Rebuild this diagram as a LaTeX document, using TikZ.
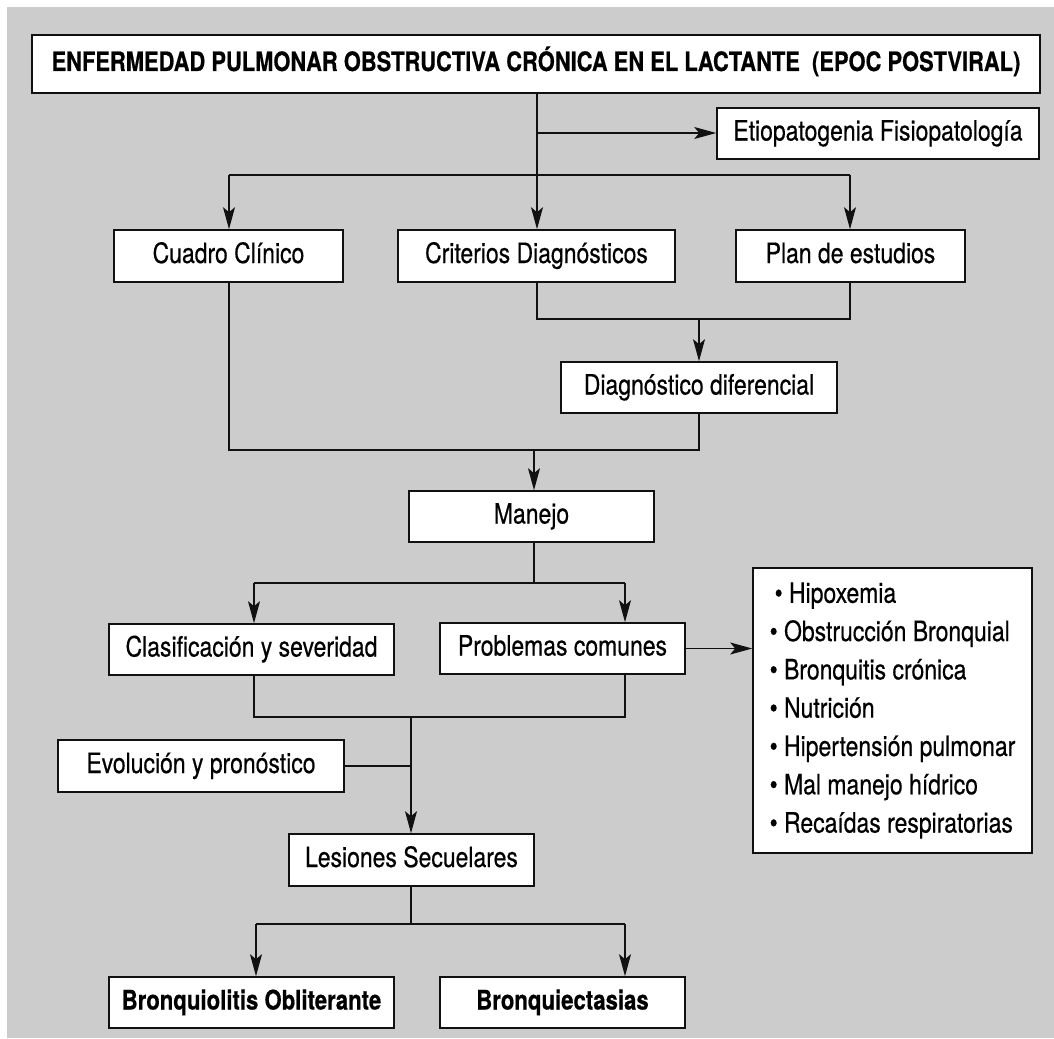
\documentclass[tikz,border=0pt]{standalone}
\usepackage{fontspec}
\setmainfont{TeX Gyre Heros}[FakeStretch=0.82, FakeBold=0.5]
\usetikzlibrary{arrows.meta}
\definecolor{bggray}{HTML}{CCCCCC}
\definecolor{ink}{HTML}{111111}
\tikzset{
  box/.style={draw=ink, line width=1.6pt, fill=white, inner sep=0pt,
    minimum height=52pt, text height=20pt, text depth=6pt,
    font=\fontsize{28}{34}\selectfont},
  boldbox/.style={box, font=\fontsize{27}{34}\selectfont\bfseries},
  titlebox/.style={box, minimum height=58pt, font=\fontsize{26.7}{32}\selectfont\bfseries},
  listbox/.style={draw=ink, line width=1.6pt, fill=white, inner sep=0pt,
    align=left, font=\fontsize{28}{38.3}\selectfont},
  ln/.style={draw=ink, line width=1.2pt},
  arr/.style={ln, -{Stealth[length=22pt,width=12pt,inset=5pt]}}
}
\begin{document}
\begin{tikzpicture}[x=1pt,y=-1pt]
\useasboundingbox (0,0) rectangle (1054,1038);
\fill[bggray] (7,7) rectangle (1054,1038);

% nodes
\node[titlebox, minimum width=1008pt] (title) at (536,64)
  {ENFERMEDAD PULMONAR OBSTRUCTIVA CRÓNICA EN EL LACTANTE\ \ (EPOC POSTVIRAL)};
\node[box, minimum width=322pt, minimum height=51pt] (etio) at (878,133.5) {Etiopatogenia Fisiopatología};
\node[box, minimum width=229pt] (cuadro) at (228.5,256) {Cuadro Clínico};
\node[box, minimum width=277pt] (crit) at (536.5,256) {Criterios Diagnósticos};
\node[box, minimum width=229pt] (plan) at (850.5,256) {Plan de estudios};
\node[box, minimum width=276pt, minimum height=51pt] (diag) at (699,387.5) {Diagnóstico diferencial};
\node[box, minimum width=245pt, minimum height=51pt] (manejo) at (531.5,516.5) {Manejo};
\node[box, minimum width=285pt, minimum height=51pt] (clasif) at (251.5,649.5) {Clasificación y severidad};
\node[box, minimum width=245pt, minimum height=51pt] (prob) at (562.5,648.5) {Problemas comunes};
\node[listbox, minimum width=279pt, minimum height=285pt] (list) at (892.5,710.5)
  {\hspace*{5pt}• Hipoxemia\\
   • Obstrucción Bronquial\\
   • Bronquitis crónica\\
   • Nutrición\\
   • Hipertensión pulmonar\\
   • Mal manejo hídrico\\
   • Recaídas respiratorias};
\node[box, minimum width=286pt] (evol) at (201,766) {Evolución y pronóstico};
\node[box, minimum width=245pt] (les) at (411.5,860) {Lesiones Secuelares};
\node[boldbox, minimum width=285pt, minimum height=51pt] (bo) at (251.5,1002.5) {Bronquiolitis Obliterante};
\node[boldbox, minimum width=245pt, minimum height=51pt] (be) at (562.5,1002.5) {Bronquiectasias};

% junction coordinates
\coordinate (t0) at (537,133);
\coordinate (t1) at (537,175);
\coordinate (l1) at (229,175);
\coordinate (r1) at (850,175);
\coordinate (c2) at (537,319);
\coordinate (m2) at (699,319);
\coordinate (p2) at (850,319);
\coordinate (c3) at (229,450);
\coordinate (m3) at (534,450);
\coordinate (d3) at (699,450);
\coordinate (m4) at (534,583);
\coordinate (l4) at (254,583);
\coordinate (r4) at (625,583);
\coordinate (l5) at (254,717);
\coordinate (m5) at (411,717);
\coordinate (r5) at (625,717);
\coordinate (e5) at (411,766);
\coordinate (m6) at (411,924);
\coordinate (l6) at (256,924);
\coordinate (r6) at (625,924);

% connectors
\draw[ln] (title.south -| t1) -- (t1);
\draw[arr] (t0) -- (etio.west |- t0);
\draw[ln] (l1) -- (r1);
\draw[arr] (l1) -- (cuadro.north -| l1);
\draw[arr] (t1) -- (crit.north -| t1);
\draw[arr] (r1) -- (plan.north -| r1);

\draw[ln] (crit.south -| c2) -- (c2) -- (p2) -- (plan.south -| p2);
\draw[arr] (m2) -- (diag.north -| m2);

\draw[ln] (cuadro.south -| c3) -- (c3) -- (d3) -- (diag.south -| d3);
\draw[arr] (m3) -- (manejo.north -| m3);

\draw[ln] (manejo.south -| m4) -- (m4);
\draw[ln] (l4) -- (r4);
\draw[arr] (l4) -- (clasif.north -| l4);
\draw[arr] (r4) -- (prob.north -| r4);
\draw[arr] (prob.east) -- (prob.east -| list.west);

\draw[ln] (clasif.south -| l5) -- (l5) -- (r5) -- (prob.south -| r5);
\draw[arr] (m5) -- (les.north -| m5);
\draw[ln] (evol.east) -- (e5);

\draw[ln] (les.south -| m6) -- (m6);
\draw[ln] (l6) -- (r6);
\draw[arr] (l6) -- (bo.north -| l6);
\draw[arr] (r6) -- (be.north -| r6);
\end{tikzpicture}
\end{document}
